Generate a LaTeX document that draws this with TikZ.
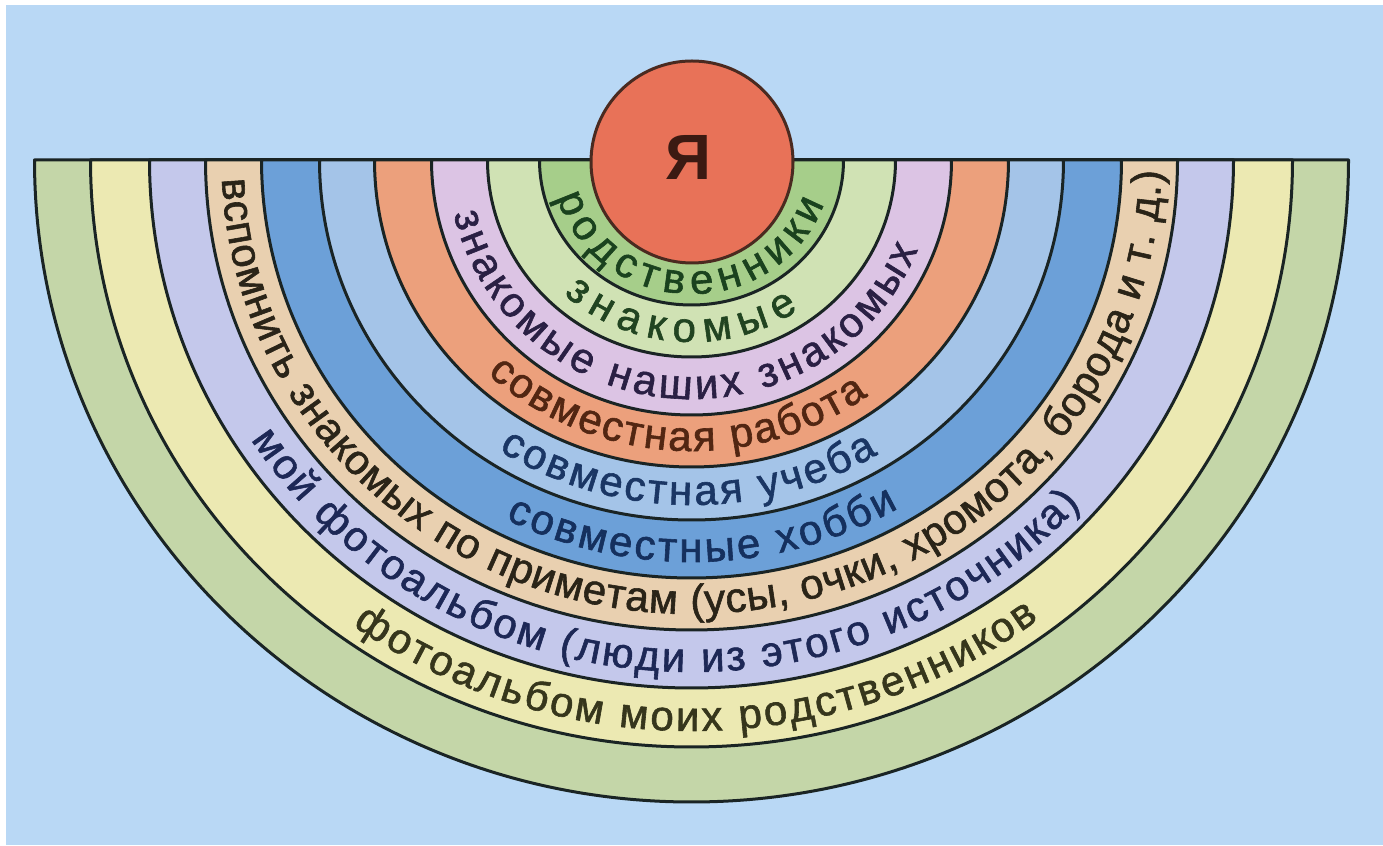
\documentclass[tikz,border=0pt]{standalone}
\usepackage{fontspec}
\setmainfont{Liberation Sans}
\newfontfamily\lblfont{Liberation Sans}[FakeBold=1.4]
\usetikzlibrary{decorations.text}
\definecolor{bg}{HTML}{B9D8F5}
\definecolor{cA}{HTML}{A6CE8A}
\definecolor{cB}{HTML}{D0E2B4}
\definecolor{cC}{HTML}{DCC4E4}
\definecolor{cD}{HTML}{ECA07C}
\definecolor{cE}{HTML}{A4C4E8}
\definecolor{cF}{HTML}{6CA0D8}
\definecolor{cG}{HTML}{E9D0B0}
\definecolor{cH}{HTML}{C4C8EB}
\definecolor{cI}{HTML}{ECE9B2}
\definecolor{cJ}{HTML}{C4D6A8}
\definecolor{mefill}{HTML}{E87258}
\definecolor{meline}{HTML}{4A2A20}
\definecolor{ln}{HTML}{1A2424}
\definecolor{tA}{HTML}{1A421E}
\definecolor{tB}{HTML}{214421}
\definecolor{tC}{HTML}{2A2044}
\definecolor{tD}{HTML}{522612}
\definecolor{tE}{HTML}{1A3664}
\definecolor{tF}{HTML}{15305E}
\definecolor{tG}{HTML}{2A2418}
\definecolor{tH}{HTML}{1D2856}
\definecolor{tI}{HTML}{36361C}
\definecolor{tYa}{HTML}{3B1A12}
\tikzset{
  bandstyle/.style={fill=#1, draw=ln, line width=1.5pt, line join=round},
  mecircle/.style={circle, fill=mefill, draw=meline, line width=1.5pt, minimum size=101pt, inner sep=0pt},
}
\newcommand\ringband[3]{%
  \filldraw[bandstyle=#3] (-#1pt,0) arc[start angle=180,end angle=360,x radius=#1pt,y radius=#2pt] -- cycle;}
\newcommand\ringlabel[6]{%
  \path[decorate,decoration={text along path, text align={fit to path}, text={|\color{#5}|#6}}]
    (#3:#1pt and #2pt) arc[start angle=#3,end angle=#4,x radius=#1pt,y radius=#2pt];}
\begin{document}
\begin{tikzpicture}
\useasboundingbox (0,0) rectangle (691.5pt,423pt);
\fill[white] (0,0) rectangle (691.5pt,423pt);
\fill[bg] (3pt,0.5pt) rectangle (691.5pt,420.5pt);
\begin{scope}[shift={(345.75pt,343pt)}]
  \ringband{328.5}{321}{cJ}
  \ringband{300.5}{293.5}{cI}
  \ringband{271}{264}{cH}
  \ringband{243}{235}{cG}
  \ringband{215}{209}{cF}
  \ringband{186}{180}{cE}
  \ringband{158.5}{153.5}{cD}
  \ringband{130}{127.5}{cC}
  \ringband{102}{98.5}{cB}
  \ringband{76}{72.5}{cA}
  \node[mecircle] (me) at (0.25pt,-1pt) {};
  \node[font=\fontsize{32pt}{36pt}\selectfont\bfseries, text=tYa, inner sep=0pt] (ya) at (-1.75pt,1.5pt) {Я};
  \lblfont\fontsize{21pt}{25pt}\selectfont
  \ringlabel{70}{67}{196}{341}{tA}{родственники}
  \ringlabel{94.5}{91}{227.5}{304.5}{tB}{знакомые}
  \ringlabel{122}{119.5}{193}{338}{tC}{знакомые наших знакомых}
  \ringlabel{150.5}{145.5}{227.3}{305.9}{tD}{совместная работа}
  \ringlabel{178.5}{172.5}{237.3}{301.5}{tE}{совместная учеба}
  \ringlabel{207}{201}{243.3}{300}{tF}{совместные хобби}
  \ringlabel{235}{227}{182.4}{358.6}{tG}{вспомнить знакомых по приметам (усы, очки, хромота, борода и т. д.)}
  \ringlabel{263}{256}{213.1}{317.7}{tH}{мой фотоальбом (люди из этого источника)}
  \ringlabel{292.5}{285.5}{234.6}{306.4}{tI}{фотоальбом моих родственников}
\end{scope}
\end{tikzpicture}
\end{document}
